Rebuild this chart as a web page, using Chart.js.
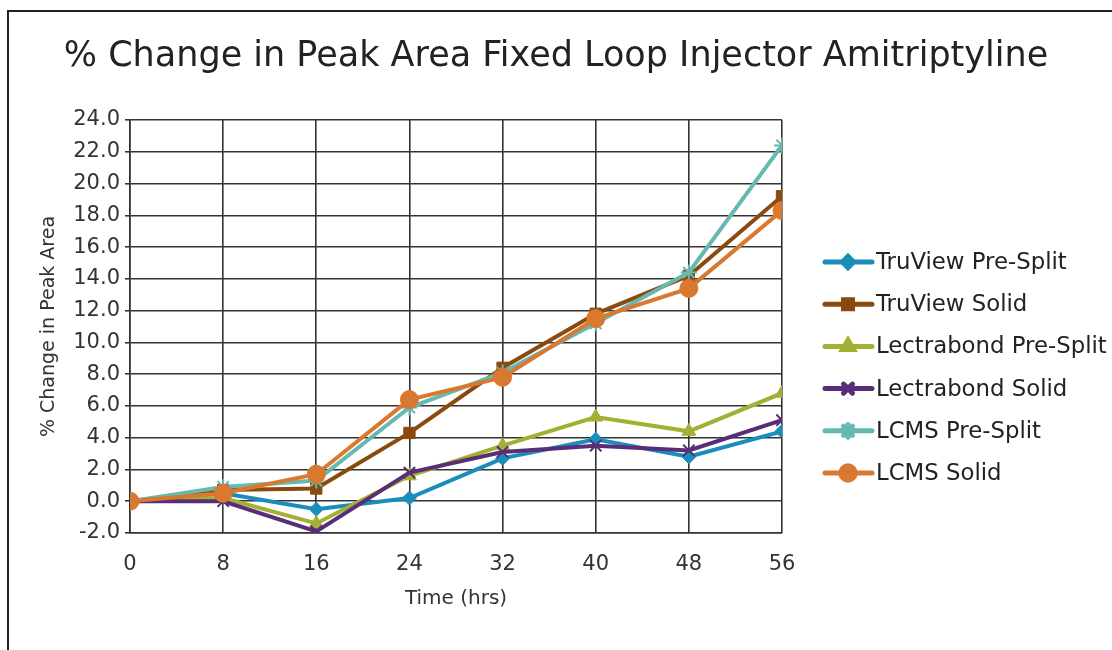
<!DOCTYPE html>
<html>
<head>
<meta charset="utf-8">
<script src="https://cdn.jsdelivr.net/npm/chart.js@4"></script>
<style>
  html, body { margin: 0; padding: 0; background: #fff; }
  #wrap { position: relative; width: 1112px; height: 650px; overflow: hidden; }
  #frame { position: absolute; left: 7px; top: 10px; width: 1200px; height: 700px; border: 2.5px solid #222; box-sizing: border-box; pointer-events: none; }
  canvas { position: absolute; left: 0; top: 0; }
</style>
</head>
<body>
<div id="wrap">
  <canvas id="c" width="1112" height="650"></canvas>
  <div id="frame"></div>
</div>
<script>
const hours = [0, 8, 16, 24, 32, 40, 48, 56];
const seriesNames = ["TruView Pre-Split", "TruView Solid", "Lectrabond Pre-Split", "Lectrabond Solid", "LCMS Pre-Split", "LCMS Solid"];
const truviewPreSplit    = [0, 0.5, -0.5, 0.2, 2.7, 3.9, 2.8, 4.4];
const truviewSolid       = [0, 0.7, 0.8, 4.3, 8.4, 11.8, 14.2, 19.2];
const lectrabondPreSplit = [0, 0.2, -1.4, 1.6, 3.5, 5.3, 4.4, 6.8];
const lectrabondSolid    = [0, 0.0, -1.9, 1.8, 3.1, 3.5, 3.2, 5.1];
const lcmsPreSplit       = [0, 0.9, 1.3, 5.9, 8.1, 11.2, 14.4, 22.4];
const lcmsSolid          = [0, 0.5, 1.7, 6.4, 7.8, 11.5, 13.4, 18.3];
const yTicks = [-2, 0, 2, 4, 6, 8, 10, 12, 14, 16, 18, 20, 22, 24];

const allValues = [truviewPreSplit, truviewSolid, lectrabondPreSplit, lectrabondSolid, lcmsPreSplit, lcmsSolid];
const colors = ["#1a8dbb", "#8a4a0e", "#a3b033", "#5a2d77", "#66b8b0", "#d9782f"];
const styles = ["rectRot", "rect", "triangle", "crossRot", "star", "circle"];
const radii = [7, 8, 8, 8, 8, 9];

const datasets = allValues.map((vals, i) => ({
  label: seriesNames[i],
  data: vals.map((v, j) => ({ x: hours[j], y: v })),
  borderColor: colors[i],
  backgroundColor: colors[i],
  pointBackgroundColor: colors[i],
  pointBorderColor: colors[i],
  pointStyle: styles[i],
  pointRadius: radii[i],
  pointBorderWidth: (styles[i] === "crossRot" || styles[i] === "star") ? 2 : 1,
  borderWidth: 4,
  tension: 0,
  order: allValues.length - 1 - i
}));

const legendPlugin = {
  id: "customLegend",
  afterDraw(chart) {
    const ctx = chart.ctx;
    ctx.save();
    chart.data.datasets.forEach((ds, i) => {
      const y = 262 + i * 42.2;
      ctx.strokeStyle = ds.borderColor;
      ctx.lineWidth = 5;
      ctx.lineCap = "round";
      ctx.beginPath();
      ctx.moveTo(825, y);
      ctx.lineTo(872, y);
      ctx.stroke();
      ctx.fillStyle = ds.backgroundColor;
      ctx.strokeStyle = ds.borderColor;
      Chart.helpers.drawPoint(ctx, {
        pointStyle: ds.pointStyle,
        radius: ds.pointRadius * 0.8,
        rotation: 0,
        borderWidth: ds.pointBorderWidth
      }, 848, y);
      ctx.fillStyle = "#222";
      ctx.font = "22.8px 'DejaVu Sans'";
      ctx.textBaseline = "middle";
      ctx.textAlign = "left";
      ctx.fillText(ds.label, 876, y + 1);
    });
    ctx.restore();
  }
};

new Chart(document.getElementById("c"), {
  type: "line",
  data: { datasets },
  plugins: [legendPlugin],
  options: {
    responsive: false,
    animation: false,
    layout: { padding: { left: 0, right: 0, top: 0, bottom: 0 } },
    plugins: {
      legend: { display: false },
      tooltip: { enabled: false },
      title: {
        display: true,
        text: "% Change in Peak Area Fixed Loop Injector Amitriptyline",
        color: "#222",
        font: { family: "'DejaVu Sans'", size: 35, weight: "normal", lineHeight: 1.2 },
        padding: { top: 36, bottom: 42 }
      }
    },
    scales: {
      x: {
        type: "linear",
        min: 0, max: 56,
        afterBuildTicks: s => { s.ticks = hours.map(v => ({ value: v })); },
        afterFit: s => { s.height = 117; },
        ticks: { color: "#333", font: { family: "'DejaVu Sans'", size: 21 }, padding: 19, maxRotation: 0 },
        grid: { color: "#333", lineWidth: 1.6, drawTicks: false },
        border: { color: "#333", width: 1.6 },
        title: { display: true, text: "Time (hrs)", color: "#333", font: { family: "'DejaVu Sans'", size: 20 }, padding: { top: 0, bottom: 39 } }
      },
      y: {
        type: "linear",
        min: -2, max: 24,
        afterBuildTicks: s => { s.ticks = yTicks.map(v => ({ value: v })); },
        afterFit: s => { s.width = 130; },
        ticks: { color: "#333", font: { family: "'DejaVu Sans'", size: 21 }, padding: 5, callback: v => v.toFixed(1) },
        grid: { color: "#333", lineWidth: 1.6, tickLength: 5 },
        border: { color: "#333", width: 1.6 },
        title: { display: true, text: "% Change in Peak Area", color: "#333", font: { family: "'DejaVu Sans'", size: 19 }, padding: { top: 38, bottom: 0 } }
      },
      legendSpace: {
        type: "linear",
        position: "right",
        display: true,
        afterFit: s => { s.width = 330; },
        ticks: { display: false },
        grid: { display: false, drawTicks: false },
        border: { display: false }
      }
    }
  }
});
</script>
</body>
</html>
